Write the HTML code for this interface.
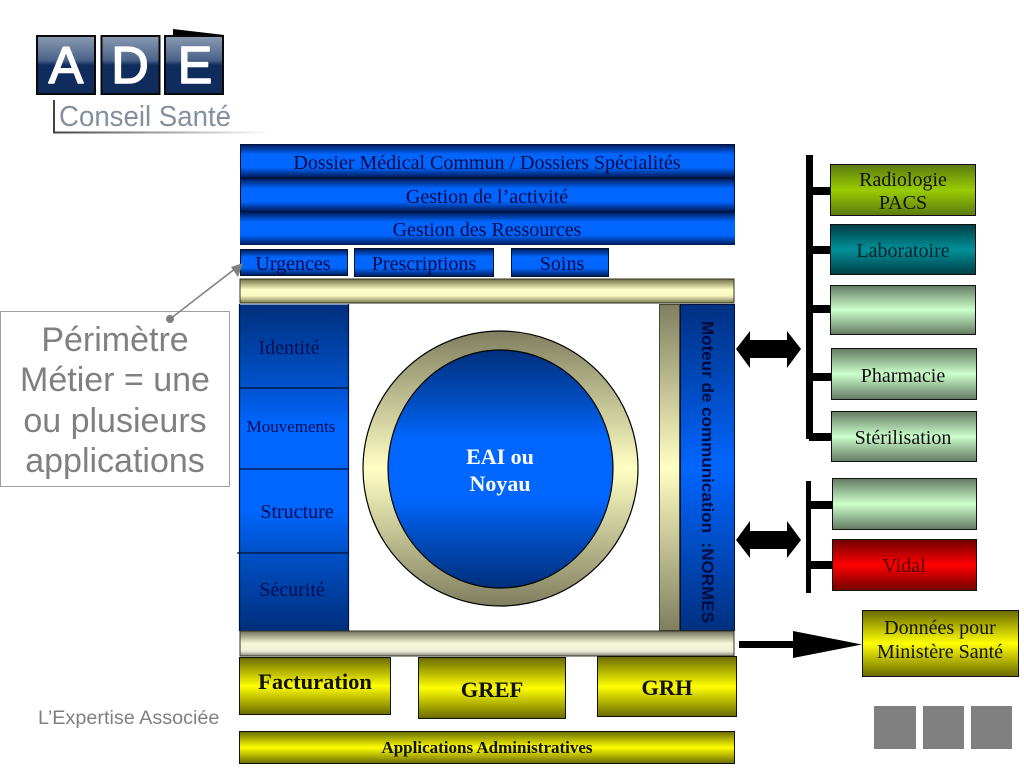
<!DOCTYPE html>
<html><head><meta charset="utf-8"><style>html,body{margin:0;padding:0;background:#fff}svg{display:block}
.s{font-family:"Liberation Serif",serif}.a{font-family:"Liberation Sans",sans-serif}</style></head><body>
<svg width="1024" height="768" viewBox="0 0 1024 768" xmlns="http://www.w3.org/2000/svg">
<defs>
<linearGradient id="bl" x1="0" y1="0" x2="0" y2="1"><stop offset="0" stop-color="#001a55"/><stop offset=".3" stop-color="#0066ff"/><stop offset=".7" stop-color="#0066ff"/><stop offset="1" stop-color="#001a55"/></linearGradient>
<linearGradient id="bc" x1="0" y1="0" x2="0" y2="1"><stop offset="0" stop-color="#003080"/><stop offset=".33" stop-color="#0066ff"/><stop offset=".67" stop-color="#0066ff"/><stop offset="1" stop-color="#003080"/></linearGradient>
<linearGradient id="bk" x1="0" y1="0" x2="0" y2="1"><stop offset="0" stop-color="#002f7c"/><stop offset=".25" stop-color="#0052cc"/><stop offset=".37" stop-color="#0066ff"/><stop offset=".63" stop-color="#0066ff"/><stop offset=".75" stop-color="#0052cc"/><stop offset="1" stop-color="#002f7c"/></linearGradient>
<linearGradient id="bl2" x1="0" y1="0" x2="0" y2="1"><stop offset="0" stop-color="#003080"/><stop offset=".5" stop-color="#0066ff"/><stop offset="1" stop-color="#003080"/></linearGradient>
<linearGradient id="kh" x1="0" y1="0" x2="0" y2="1"><stop offset="0" stop-color="#6f6f45"/><stop offset=".45" stop-color="#ffffc8"/><stop offset=".7" stop-color="#f6f6c0"/><stop offset="1" stop-color="#77774f"/></linearGradient>
<linearGradient id="kh2" x1="0" y1="0" x2="0" y2="1"><stop offset="0" stop-color="#70705a"/><stop offset=".5" stop-color="#f8f8d8"/><stop offset=".8" stop-color="#eeeed8"/><stop offset="1" stop-color="#88887a"/></linearGradient>
<linearGradient id="ri" x1="0" y1="0" x2="0" y2="1"><stop offset="0" stop-color="#7f7f60"/><stop offset=".5" stop-color="#ffffc4"/><stop offset="1" stop-color="#7f7f60"/></linearGradient>
<linearGradient id="ye" x1="0" y1="0" x2="0" y2="1"><stop offset="0" stop-color="#6a6a00"/><stop offset=".5" stop-color="#ffff00"/><stop offset="1" stop-color="#6a6a00"/></linearGradient>
<linearGradient id="gr" x1="0" y1="0" x2="0" y2="1"><stop offset="0" stop-color="#5c7a10"/><stop offset=".5" stop-color="#99cc00"/><stop offset="1" stop-color="#5c7a10"/></linearGradient>
<linearGradient id="te" x1="0" y1="0" x2="0" y2="1"><stop offset="0" stop-color="#003f47"/><stop offset=".5" stop-color="#009098"/><stop offset="1" stop-color="#003f47"/></linearGradient>
<linearGradient id="mi" x1="0" y1="0" x2="0" y2="1"><stop offset="0" stop-color="#637a62"/><stop offset=".5" stop-color="#ccffcc"/><stop offset="1" stop-color="#637a62"/></linearGradient>
<linearGradient id="re" x1="0" y1="0" x2="0" y2="1"><stop offset="0" stop-color="#700000"/><stop offset=".5" stop-color="#ff0000"/><stop offset="1" stop-color="#700000"/></linearGradient>
<linearGradient id="lg" x1="0" y1="0" x2="0" y2="1"><stop offset="0" stop-color="#8a9bb2"/><stop offset=".42" stop-color="#4a6288"/><stop offset=".5" stop-color="#0f2c5c"/><stop offset="1" stop-color="#0f2c5c"/></linearGradient>
<linearGradient id="fd" x1="0" y1="0" x2="1" y2="0"><stop offset="0" stop-color="#444"/><stop offset="1" stop-color="#fff"/></linearGradient>
</defs>

<!-- logo -->
<polygon points="173,29 224,35 173,35" fill="#000"/>
<g stroke="#0a0a0a" stroke-width="2">
<rect x="37" y="36" width="58" height="58" fill="url(#lg)"/>
<rect x="101.500" y="36" width="58" height="58" fill="url(#lg)"/>
<rect x="165" y="36" width="58" height="58" fill="url(#lg)"/></g>
<g class="a" fill="#fff" stroke="#fff" stroke-width="1.500" stroke-linejoin="round" font-size="52" text-anchor="middle"><text x="66" y="83">A</text><text x="130" y="83">D</text><text x="195" y="83">E</text></g>
<rect x="53" y="100" width="2" height="33" fill="#444"/><rect x="53" y="131.500" width="217" height="2" fill="url(#fd)"/>
<text class="a" x="59" y="126" font-size="29" fill="#8490a0" textLength="172" lengthAdjust="spacingAndGlyphs">Conseil Santé</text>

<!-- top bars -->
<rect x="240.500" y="144.500" width="494" height="33" fill="url(#bl)" stroke="#001040"/>
<rect x="240.500" y="178.500" width="494" height="33" fill="url(#bl)" stroke="#001040"/>
<rect x="240" y="212" width="495" height="33" fill="url(#bl)"/>
<rect x="240.500" y="249.500" width="107" height="26" fill="url(#bl)" stroke="#001030"/>
<rect x="354.500" y="248.500" width="139" height="28" fill="url(#bl)" stroke="#001030"/>
<rect x="511.500" y="248.500" width="97" height="28" fill="url(#bl)" stroke="#001030"/>
<g class="s" font-size="20" fill="#000a48" text-anchor="middle">
<text x="487" y="169">Dossier Médical Commun / Dossiers Spécialités</text>
<text x="487" y="203">Gestion de l’activité</text>
<text x="487" y="236">Gestion des Ressources</text>
<text x="293" y="270">Urgences</text>
<text x="424" y="270">Prescriptions</text>
<text x="562" y="270">Soins</text></g>
<rect x="240" y="279" width="494" height="24" fill="url(#kh)" stroke="#333320"/>

<!-- central block -->
<rect x="239.500" y="304.500" width="109" height="326" fill="url(#bk)"/>
<path d="M239.500 304v327M348.500 304v327M239 388h110M239 469h110M237 553h112" stroke="#001030" stroke-width="1.200" fill="none"/>
<g class="s" fill="#000c55" text-anchor="middle">
<text x="289" y="354" font-size="20">Identité</text>
<text x="291" y="432" font-size="17">Mouvements</text>
<text x="297" y="518" font-size="20">Structure</text>
<text x="292" y="596" font-size="20">Sécurité</text></g>
<ellipse cx="500.500" cy="468.500" rx="137.500" ry="137.500" fill="url(#ri)" stroke="#000" stroke-width="1.200"/>
<ellipse cx="500.500" cy="469" rx="112.500" ry="119" fill="url(#bk)" stroke="#000" stroke-width="1.200"/>
<g class="s" fill="#fff" font-size="22" font-weight="bold" text-anchor="middle"><text x="500" y="464">EAI ou</text><text x="500" y="491">Noyau</text></g>
<rect x="659.500" y="304.500" width="20" height="326" fill="url(#ri)" stroke="#444430"/>
<rect x="680.500" y="304.500" width="54" height="326" fill="url(#bl2)" stroke="#001040"/>
<text class="a" transform="translate(702,321) rotate(90)" font-size="17" font-weight="bold" fill="#000c40" textLength="302" lengthAdjust="spacingAndGlyphs">Moteur de communication&#160;&#160;:NORMES</text>
<rect x="240" y="631" width="494" height="25" fill="url(#kh2)" stroke="#333320"/>

<!-- bottom boxes -->
<g stroke="#111100"><rect x="239.500" y="657.500" width="151" height="57" fill="url(#ye)"/>
<rect x="418.500" y="657.500" width="147" height="61" fill="url(#ye)"/>
<rect x="597.500" y="656.500" width="139" height="60" fill="url(#ye)"/>
<rect x="239.500" y="731.500" width="495" height="32" fill="url(#ye)"/></g>
<g class="s" fill="#111" font-weight="bold" text-anchor="middle">
<text x="315" y="689" font-size="22.500">Facturation</text>
<text x="492" y="697" font-size="22.500">GREF</text>
<text x="667" y="695" font-size="22.500">GRH</text>
<text x="487" y="753" font-size="17">Applications Administratives</text></g>

<!-- right connectors -->
<g fill="#000">
<rect x="806" y="155" width="7" height="284"/>
<rect x="813" y="187" width="18" height="8"/><rect x="813" y="246" width="18" height="8"/><rect x="813" y="305" width="18" height="8"/><rect x="813" y="373" width="18" height="8"/><rect x="809" y="433" width="22" height="8"/>
<rect x="806" y="481" width="5" height="112"/>
<rect x="811" y="501" width="22" height="8"/><rect x="811" y="561" width="22" height="8"/>
<polygon points="736,349 750,331 750,340 787,340 787,331 801,349 787,368 787,358 750,358 750,368"/>
<polygon points="736,540 750,521 750,531 787,531 787,521 801,540 787,558 787,549 750,549 750,558"/>
<polygon points="739,641 793,641 793,631 862,644.500 793,658 793,648 739,648"/>
</g>
<g stroke="#111"><rect x="830.500" y="164.500" width="145" height="51" fill="url(#gr)"/>
<rect x="830.500" y="224.500" width="145" height="50" fill="url(#te)"/>
<rect x="830.500" y="285.500" width="145" height="49" fill="url(#mi)"/>
<rect x="831.500" y="348.500" width="145" height="51" fill="url(#mi)"/>
<rect x="831.500" y="411.500" width="145" height="50" fill="url(#mi)"/>
<rect x="832.500" y="478.500" width="144" height="51" fill="url(#mi)"/>
<rect x="832.500" y="539.500" width="144" height="51" fill="url(#re)"/>
<rect x="862.500" y="610.500" width="156" height="66" fill="url(#ye)"/></g>
<g class="s" font-size="20" fill="#111" text-anchor="middle">
<text x="903" y="186">Radiologie</text><text x="903" y="209">PACS</text>
<text x="903" y="257" fill="#02202a">Laboratoire</text>
<text x="903" y="382">Pharmacie</text>
<text x="903" y="444">Stérilisation</text>
<text x="904" y="572" fill="#500000">Vidal</text>
<text x="940" y="634">Données pour</text>
<text x="940" y="658">Ministère Santé</text></g>
<rect x="874" y="706" width="42" height="43" fill="#808080"/><rect x="923" y="706" width="41" height="43" fill="#808080"/><rect x="971" y="706" width="41" height="43" fill="#808080"/>

<!-- callout -->
<rect x="0.500" y="311.500" width="229" height="175" fill="#fff" stroke="#a0a0a0"/>
<g class="a" font-size="34" fill="#808080" text-anchor="middle">
<text x="115" y="351">Périmètre</text><text x="115" y="391">Métier = une</text><text x="115" y="432">ou plusieurs</text><text x="115" y="472">applications</text></g>
<circle cx="170" cy="319" r="4" fill="#808080"/>
<path d="M170 319L236 268" stroke="#808080" stroke-width="1.500"/>
<polygon points="243,263 231,267 238,277" fill="#808080"/>
<text class="a" x="38" y="724" font-size="19.800" fill="#808080">L’Expertise Associée</text>
</svg>
</body></html>
